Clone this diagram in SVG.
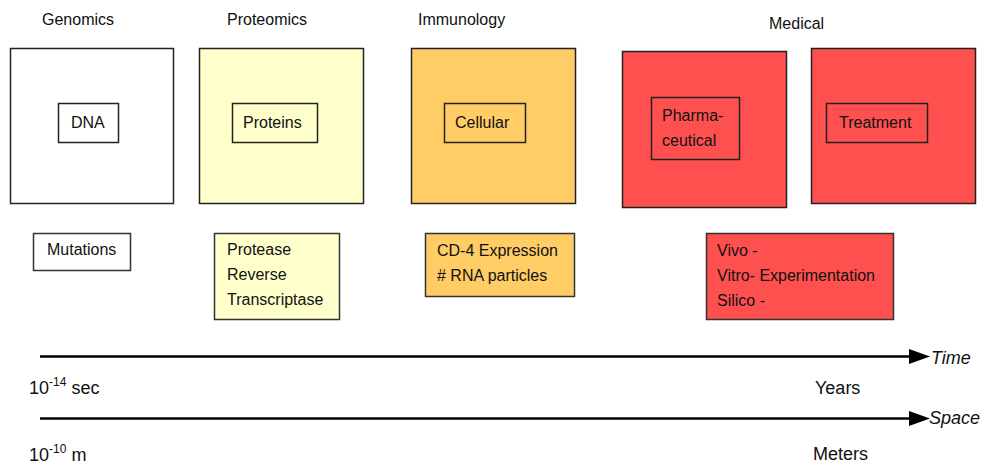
<svg xmlns="http://www.w3.org/2000/svg" width="982" height="466" viewBox="0 0 982 466">
  <style>
    text { font-family: "Liberation Sans", Arial, sans-serif; font-size: 16px; fill: #111; }
    .outer { stroke: #222; stroke-width: 1.5; }
    .inner { fill: none; stroke: #222; stroke-width: 1.5; }
    .note { stroke: #333; stroke-width: 1.5; }
    .white { fill: #ffffff; }
    .yellow { fill: #ffffcc; }
    .orange { fill: #ffcc66; }
    .red { fill: #ff5050; }
    .axis { stroke: #000; stroke-width: 2.5; fill: none; }
    .scale { font-size: 18px; }
    .sup { font-size: 12px; }
    .axislabel { font-size: 18px; font-style: italic; }
  </style>
  <defs>
    <marker id="head" markerUnits="userSpaceOnUse" markerWidth="22" markerHeight="16" refX="0" refY="7.5" orient="auto">
      <path d="M0,0 L21,7.5 L0,15 Z" fill="#000"/>
    </marker>
  </defs>

  <!-- column headings -->
  <g id="headings">
    <text x="42" y="25">Genomics</text>
    <text x="227" y="25">Proteomics</text>
    <text x="418" y="25">Immunology</text>
    <text x="769" y="29">Medical</text>
  </g>

  <!-- Genomics -->
  <g id="genomics">
    <rect class="outer white" x="10.5" y="48.5" width="163" height="155"/>
    <rect class="inner" x="58.5" y="103.5" width="60" height="39"/>
    <text x="71" y="128">DNA</text>
  </g>

  <!-- Proteomics -->
  <g id="proteomics">
    <rect class="outer yellow" x="199.5" y="48.5" width="164" height="155"/>
    <rect class="inner" x="232.5" y="103.5" width="85" height="39"/>
    <text x="243" y="128">Proteins</text>
  </g>

  <!-- Immunology -->
  <g id="immunology">
    <rect class="outer orange" x="411.5" y="48.5" width="164" height="155"/>
    <rect class="inner" x="444.5" y="103.5" width="81" height="39"/>
    <text x="455" y="128">Cellular</text>
  </g>

  <!-- Medical: pharmaceutical -->
  <g id="pharmaceutical">
    <rect class="outer red" x="622.5" y="51.5" width="164" height="156"/>
    <rect class="inner" x="651.5" y="97.5" width="88" height="62"/>
    <text x="662" y="121">Pharma-</text>
    <text x="662" y="146">ceutical</text>
  </g>

  <!-- Medical: treatment -->
  <g id="treatment">
    <rect class="outer red" x="811.5" y="48.5" width="164" height="155"/>
    <rect class="inner" x="826.5" y="103.5" width="101" height="39"/>
    <text x="839" y="128">Treatment</text>
  </g>

  <!-- detail notes -->
  <g id="mutations">
    <rect class="note white" x="33.5" y="233.5" width="97" height="37"/>
    <text x="47" y="255">Mutations</text>
  </g>

  <g id="enzymes">
    <rect class="note yellow" x="214.5" y="233.5" width="125" height="86"/>
    <text x="227" y="255">Protease</text>
    <text x="227" y="280">Reverse</text>
    <text x="227" y="305">Transcriptase</text>
  </g>

  <g id="markers">
    <rect class="note orange" x="425.5" y="233.5" width="149" height="63"/>
    <text x="437" y="256">CD-4 Expression</text>
    <text x="437" y="281"># RNA particles</text>
  </g>

  <g id="experimentation">
    <rect class="note red" x="706.5" y="233.5" width="187" height="86"/>
    <text x="717" y="256">Vivo -</text>
    <text x="717" y="281">Vitro- Experimentation</text>
    <text x="717" y="306">Silico -</text>
  </g>

  <!-- time and space scales -->
  <g id="connectors">
    <line class="axis" x1="40" y1="356.5" x2="909" y2="356.5" marker-end="url(#head)"/>
    <line class="axis" x1="40" y1="418.5" x2="909" y2="418.5" marker-end="url(#head)"/>
  </g>

  <g id="scale-labels">
    <text class="axislabel" x="931" y="364">Time</text>
    <text class="axislabel" x="929" y="424">Space</text>
    <text class="scale" x="29" y="394">10<tspan class="sup" dy="-8">-14</tspan><tspan dy="8"> sec</tspan></text>
    <text class="scale" x="815" y="394">Years</text>
    <text class="scale" x="29" y="461">10<tspan class="sup" dy="-8">-10</tspan><tspan dy="8"> m</tspan></text>
    <text class="scale" x="813" y="460">Meters</text>
  </g>
</svg>
